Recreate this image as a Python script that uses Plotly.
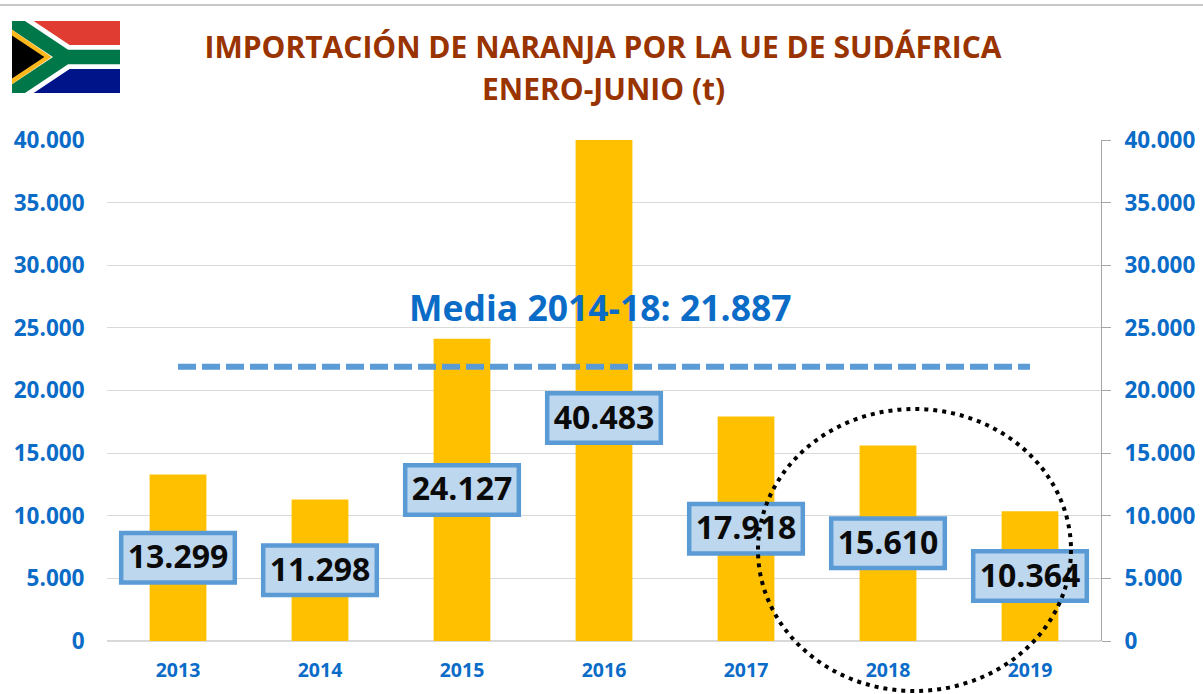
import base64
import plotly.graph_objects as go

years = ["2013", "2014", "2015", "2016", "2017", "2018", "2019"]
imports_t = [13299, 11298, 24127, 40483, 17918, 15610, 10364]
mean_2014_18 = [21887] * 7
tick_values = [0, 5000, 10000, 15000, 20000, 25000, 30000, 35000, 40000]
title_lines = ["IMPORTACIÓN DE NARANJA POR LA UE DE SUDÁFRICA", "ENERO-JUNIO (t)"]
mean_label = "Media 2014-18: 21.887"

W, H = 1203, 694
L, R, T, B = 107, 102, 140, 53
FONT = "Open Sans"
BLUE = "#0B6CC8"


def px(x):
    return (x - L) / (W - L - R)


def py(y):
    return 1 - (y - T) / (H - T - B)


def dotted(n):
    return f"{n:,}".replace(",", ".")


flag_svg = (
    '<svg xmlns="http://www.w3.org/2000/svg" viewBox="0 0 90 60" preserveAspectRatio="none">'
    '<rect width="90" height="30" fill="#E03C31"/>'
    '<rect y="30" width="90" height="30" fill="#001489"/>'
    '<path d="M-9,-6 L45,30 L90,30 M45,30 L-9,66" stroke="#fff" stroke-width="20" fill="none"/>'
    '<path d="M-9,-6 L45,30 L90,30 M45,30 L-9,66" stroke="#007749" stroke-width="12" fill="none"/>'
    '<path d="M0,7.2 L33,30 L0,52.8z" fill="#FFB81C"/>'
    '<path d="M0,12 L27,30 L0,48z" fill="#000"/>'
    "</svg>"
)
flag_uri = "data:image/svg+xml;base64," + base64.b64encode(flag_svg.encode()).decode()

fig = go.Figure()
fig.add_bar(x=years, y=imports_t, marker_color="#FFC000", marker_line_width=0, showlegend=False)
fig.add_scatter(
    x=years, y=mean_2014_18, mode="lines",
    line=dict(color="#5B9BD5", width=6, dash="18px,6px"), showlegend=False,
)
fig.add_scatter(x=years, y=imports_t, yaxis="y2", mode="none", showlegend=False, hoverinfo="skip")

shapes = [
    dict(type="line", xref="paper", yref="paper", x0=px(0), x1=px(W), y0=py(5), y1=py(5),
         line=dict(color="#C8C8C8", width=2)),
]
BOX_HALF_W, BOX_HALF_H = 0.40, 1976
for i, value in enumerate(imports_t):
    centre = 17800 if value > 40000 else value / 2
    shapes.append(dict(
        type="rect", xref="x", yref="y",
        x0=i - BOX_HALF_W, x1=i + BOX_HALF_W, y0=centre - BOX_HALF_H, y1=centre + BOX_HALF_H,
        fillcolor="#BDD7EE", line=dict(color="#5B9BD5", width=4.5), layer="above",
        label=dict(text=f"<b>{dotted(value)}</b>", textposition="middle center",
                   font=dict(family=FONT, size=32, color="#0A0A0A")),
    ))
shapes.append(dict(
    type="circle", xref="paper", yref="paper",
    x0=px(758), x1=px(1071), y0=py(409), y1=py(691),
    line=dict(color="#000000", width=4, dash="4px,5px"), layer="above",
))

fig.update_layout(
    width=W, height=H, autosize=False,
    margin=dict(l=L, r=R, t=T, b=B),
    paper_bgcolor="white", plot_bgcolor="white",
    separators=",.",
    bargap=0.6,
    showlegend=False,
    title=dict(
        text=f"<b>{title_lines[0]}</b>", x=603 / W, xanchor="center", y=1 - 47 / H, yanchor="middle",
        font=dict(family=FONT, size=30, color="#993300"),
    ),
    xaxis=dict(
        type="category", categoryorder="array", categoryarray=years, range=[-0.5, 6.5],
        automargin=False, showgrid=False, showline=False, ticks="outside", ticklen=12,
        tickcolor="rgba(0,0,0,0)", tickfont=dict(family=FONT, size=19.5, color=BLUE, weight="bold"),
    ),
    yaxis=dict(
        range=[0, 40000], tickvals=tick_values, tickformat=",d", showline=False, automargin=False,
        gridcolor="#D9D9D9", gridwidth=1, zeroline=True, zerolinecolor="#D9D9D9", zerolinewidth=2,
        ticks="outside", ticklen=17, tickcolor="rgba(0,0,0,0)",
        tickfont=dict(family=FONT, size=22.5, color=BLUE, weight="bold"),
    ),
    yaxis2=dict(
        overlaying="y", side="right", range=[0, 40000], tickvals=tick_values, tickformat=",d",
        automargin=False, showgrid=False, zeroline=False, showline=True, linecolor="#A6A6A6", linewidth=1,
        ticks="outside", ticklen=9, tickcolor="#A6A6A6", ticklabelstandoff=9,
        tickfont=dict(family=FONT, size=22.5, color=BLUE, weight="bold"),
    ),
    shapes=shapes,
    images=[dict(source=flag_uri, xref="paper", yref="paper", x=px(12), y=py(21),
                 sizex=108 / (W - L - R), sizey=72 / (H - T - B),
                 xanchor="left", yanchor="top", sizing="stretch", layer="above")],
    annotations=[
        dict(text=f"<b>{title_lines[1]}</b>", xref="paper", yref="paper", x=px(603), y=py(89),
             showarrow=False, xanchor="center", yanchor="middle",
             font=dict(family=FONT, size=30, color="#993300")),
        dict(text=f"<b>{mean_label}</b>", xref="paper", yref="paper", x=px(600), y=py(307),
             showarrow=False, xanchor="center", yanchor="middle",
             font=dict(family=FONT, size=35.5, color="#0B6CC8")),
    ],
)

fig.write_html(
    "out.html",
    config={"displayModeBar": False},
    post_script="document.body.style.margin='0';",
)
